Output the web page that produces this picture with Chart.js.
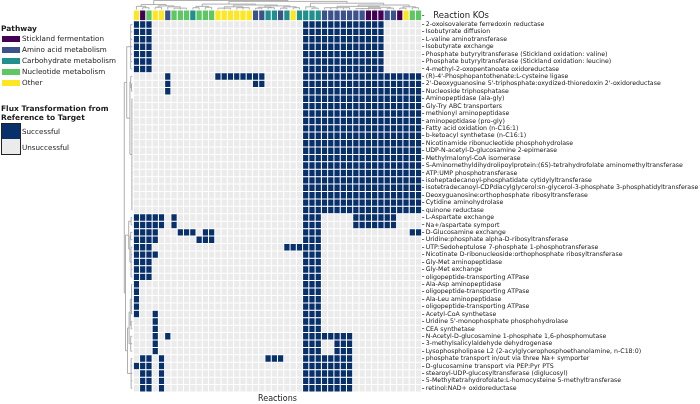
<!DOCTYPE html>
<html>
<head>
<meta charset="utf-8">
<script src="https://cdn.jsdelivr.net/npm/chart.js@4.4.1/dist/chart.umd.min.js"></script>
<style>
  html, body { margin: 0; padding: 0; background: #fff; }
  #wrap { position: relative; width: 700px; height: 404px; font-family: "DejaVu Sans", sans-serif; color: #1a1a1a; }
  #chart { position: absolute; left: 0; top: 0; }
  .lg { position: absolute; left: 22px; font-size: 7.2px; line-height: 10px; white-space: nowrap; }
  .hd { position: absolute; left: 1px; font-size: 7.5px; font-weight: bold; line-height: 9px; white-space: nowrap; }
  .sw { position: absolute; left: 1.5px; width: 18.5px; height: 6px; }
  #flux { position: absolute; left: 1px; top: 123px; width: 18px; height: 30px; border: 1px solid #222; }
  #flux div { height: 15px; }
</style>
</head>
<body>
<div id="wrap">
  <canvas id="chart" width="700" height="404"></canvas>
  <div id="legend"></div>
</div>
<script>
// rows of the heatmap (reactions), top to bottom
const reactions = [
  "2-oxoisovalerate ferredoxin reductase",
  "Isobutyrate diffusion",
  "L-valine aminotransferase",
  "Isobutyrate exchange",
  "Phosphate butyryltransferase (Stickland oxidation: valine)",
  "Phosphate butyryltransferase (Stickland oxidation: leucine)",
  "4-methyl-2-oxopentanoate oxidoreductase",
  "(R)-4'-Phosphopantothenate:L-cysteine ligase",
  "2'-Deoxyguanosine 5'-triphosphate:oxydized-thioredoxin 2'-oxidoreductase",
  "Nucleoside triphosphatase",
  "Aminopeptidase (ala-gly)",
  "Gly-Try ABC transporters",
  "methionyl aminopeptidase",
  "aminopeptidase (pro-gly)",
  "Fatty acid oxidation (n-C16:1)",
  "b-ketoacyl synthetase (n-C16:1)",
  "Nicotinamide ribonucleotide phosphohydrolase",
  "UDP-N-acetyl-D-glucosamine 2-epimerase",
  "Methylmalonyl-CoA isomerase",
  "S-Aminomethyldihydrolipoylprotein:(6S)-tetrahydrofolate aminomethyltransferase",
  "ATP:UMP phosphotransferase",
  "isoheptadecanoyl-phosphatidate cytidylyltransferase",
  "isotetradecanoyl-CDPdiacylglycerol:sn-glycerol-3-phosphate 3-phosphatidyltransferase",
  "Deoxyguanosine:orthophosphate ribosyltransferase",
  "Cytidine aminohydrolase",
  "quinone reductase",
  "L-Aspartate exchange",
  "Na+/aspartate symport",
  "D-Glucosamine exchange",
  "Uridine:phosphate alpha-D-ribosyltransferase",
  "UTP:Sedoheptulose 7-phosphate 1-phosphotransferase",
  "Nicotinate D-ribonucleoside:orthophosphate ribosyltransferase",
  "Gly-Met aminopeptidase",
  "Gly-Met exchange",
  "oligopeptide-transporting ATPase",
  "Ala-Asp aminopeptidase",
  "oligopeptide-transporting ATPase",
  "Ala-Leu aminopeptidase",
  "oligopeptide-transporting ATPase",
  "Acetyl-CoA synthetase",
  "Uridine 5'-monophosphate phosphohydrolase",
  "CEA synthetase",
  "N-Acetyl-D-glucosamine 1-phosphate 1,6-phosphomutase",
  "3-methylsalicylaldehyde dehydrogenase",
  "Lysophospholipase L2 (2-acylglycerophosphoethanolamine, n-C18:0)",
  "phosphate transport in/out via three Na+ symporter",
  "D-glucosamine transport via PEP:Pyr PTS",
  "stearoyl-UDP-glucosyltransferase (diglucosyl)",
  "5-Methyltetrahydrofolate:L-homocysteine 5-methyltransferase",
  "retinol:NAD+ oxidoreductase"
];

// pathway of each reaction KO column, left to right
// S Stickland, A amino acid, C carbohydrate, N nucleotide, O other
const koPathway = [
  "O","S","N","O","O","A","N","N","N","C","N","N","N","O","O","O",
  "O","O","O","A","A","C","C","A","C","O","C","C","C","C","A","A",
  "A","A","A","A","A","S","S","S","A","A","S","O","N","N"
];

const pathwayNames = {
  S: "Stickland fermentation",
  A: "Amino acid metabolism",
  C: "Carbohydrate metabolism",
  N: "Nucleotide metabolism",
  O: "Other"
};
const pathwayColors = { S: "#440154", A: "#3B528B", C: "#21908C", N: "#5DC863", O: "#FDE725" };

// columns where the flux transformation succeeded, per reaction row
const successful = [
  "0-2,27-39", "0-2,27-39", "0-2,27-39", "0-2,27-39", "0-2,27-39", "0-2,27-39", "0-2,27-39",
  "5,13-20,27-45", "5,19-20,27-45", "5,27-45",
  "27-45", "27-45", "27-45", "27-45", "27-45", "27-45", "27-45", "27-45",
  "27-45", "27-45", "27-45", "27-45", "27-45", "27-45", "27-45", "27-45",
  "0-4,6,27-29,35-41", "0-4,6,27-29,35-41",
  "0-3,7-9,11-12,27-29,44-45", "0-3,10-12,27-29", "0-2,24-29", "0-3,27-29",
  "0-2,27-29", "0-2,27-29", "0-2,27-29",
  "0,27-29", "0,27-29", "0,27-29", "0,27-29", "0,3,27-29",
  "3,27-29", "3,27-29", "3,5,27-34", "3,27-29,32-34", "3,27-29,32-34",
  "1-2,4,21-23,27-34", "0-2,4,27-34", "1-2,4,27-34", "1-2,4,27-34", "1-2,4,27-34"
];

// dendrograms: [height, child, child...], leaves are column / row indices
const colTree = [1.0,
  [0.55, [0.35, 0, [0.2, 1, 2]], [0.4, [0.25, 3, 4], [0.3, 5, [0.15, 6, 7, 8]]]],
  [0.9,
    [0.6, [0.35, [0.2, 9, 10], [0.25, 11, 12]],
      [0.5, [0.3, [0.15, 13, 14, 15], [0.2, 16, 17, 18]],
        [0.4, [0.25, [0.15, 19, 20], [0.2, 21, 22]], [0.3, [0.15, 23, 24], [0.2, 25, 26]]]]],
    [0.7, [0.3, 27, [0.15, 28, 29]],
      [0.5, [0.35, [0.2, 30, 31, 32, 33, 34], [0.25, [0.1, 35, 36, 37, 38, 39], [0.15, 40, 41]]],
        [0.3, [0.15, 42, 43], [0.2, 44, 45]]]]
  ]
];
const rowTree = [1.0,
  [0.7, [0.2, 0, 1, 2, 3, 4, 5, 6],
    [0.3, [0.2, 7, [0.1, 8, 9]], [0.05, 10, 11, 12, 13, 14, 15, 16, 17, 18, 19, 20, 21, 22, 23, 24, 25]]],
  [0.85, [0.45, [0.15, 26, 27], [0.3, [0.2, 28, 29], [0.15, 30, 31, 32, 33, 34]]],
    [0.6, [0.4, [0.25, [0.1, 35, 36, 37, 38, 39], [0.15, 40, 41]], [0.2, 42, 43, 44]],
      [0.15, 45, 46, 47, 48, 49]]]
];

const DARK = "#08306B";
const LIGHT = "#EBEBEB";
const FONT = "'DejaVu Sans', sans-serif";

function parseCols(s) {
  const out = [];
  s.split(",").forEach(part => {
    const [a, b] = part.split("-").map(Number);
    for (let c = a; c <= (b === undefined ? a : b); c++) out.push(c);
  });
  return out;
}
const successSets = successful.map(s => new Set(parseCols(s)));

// legend on the left
const legend = document.getElementById("legend");
let html = '<div class="hd" style="top:23.5px">Pathway</div>';
Object.keys(pathwayNames).forEach((k, i) => {
  const cy = 39.3 + i * 11;
  html += `<div class="sw" style="top:${cy - 3}px;background:${pathwayColors[k]}"></div>`;
  html += `<div class="lg" style="top:${cy - 5}px">${pathwayNames[k]}</div>`;
});
html += '<div class="hd" style="top:103.5px">Flux Transformation from<br>Reference to Target</div>';
html += `<div id="flux"><div style="background:${DARK}"></div><div style="background:${LIGHT}"></div></div>`;
html += '<div class="lg" style="top:127px">Successful</div>';
html += '<div class="lg" style="top:142.5px">Unsuccessful</div>';
legend.innerHTML = html;

// one stacked dataset per KO column, for the grid and for the pathway bar
const datasets = [];
koPathway.forEach((p, c) => {
  datasets.push({
    yAxisID: "y",
    data: reactions.map(() => 1),
    backgroundColor: reactions.map((r, j) => successSets[j].has(c) ? DARK : LIGHT)
  });
});
koPathway.forEach((p, c) => {
  datasets.push({
    yAxisID: "yk",
    data: [1],
    backgroundColor: pathwayColors[p]
  });
});

function drawTree(ctx, node, pos, hpx, vertical) {
  if (typeof node === "number") return { p: pos(node), h: 0 };
  const h = node[0];
  const kids = node.slice(1).map(k => drawTree(ctx, k, pos, hpx, vertical));
  ctx.beginPath();
  kids.forEach(k => {
    if (vertical) { ctx.moveTo(k.p, hpx(k.h)); ctx.lineTo(k.p, hpx(h)); }
    else { ctx.moveTo(hpx(k.h), k.p); ctx.lineTo(hpx(h), k.p); }
  });
  const p0 = kids[0].p, p1 = kids[kids.length - 1].p;
  if (vertical) { ctx.moveTo(p0, hpx(h)); ctx.lineTo(p1, hpx(h)); }
  else { ctx.moveTo(hpx(h), p0); ctx.lineTo(hpx(h), p1); }
  ctx.stroke();
  return { p: (p0 + p1) / 2, h: h };
}

const dendroPlugin = {
  id: "dendro",
  afterDatasetsDraw(chart) {
    const ctx = chart.ctx;
    const x = chart.scales.x, y = chart.scales.y, yk = chart.scales.yk;
    ctx.save();
    ctx.strokeStyle = "#9a9a9a";
    ctx.lineWidth = 0.8;
    const top = yk.top - 0.5;
    drawTree(ctx, colTree, c => x.getPixelForValue(c + 0.5), h => top - h * (top - 0.5), true);
    const left = x.left - 1;
    drawTree(ctx, rowTree, r => y.getPixelForValue(r), h => left - h * 8, false);
    ctx.restore();
  }
};

const yCommon = {
  type: "category",
  position: "right",
  stacked: true,
  stack: "rows",
  offset: true,
  border: { display: false },
  grid: { offset: false, drawOnChartArea: false, drawTicks: true, tickLength: 2.5, color: "#333", lineWidth: 0.7 },
  afterFit(scale) {
    scale.width = 278.3;
    scale.paddingTop = 0;
    scale.paddingBottom = 0;
  }
};

new Chart(document.getElementById("chart"), {
  type: "bar",
  data: { datasets: datasets },
  options: {
    indexAxis: "y",
    responsive: false,
    animation: false,
    devicePixelRatio: 1,
    datasets: {
      bar: {
        grouped: false,
        barPercentage: 1,
        categoryPercentage: 1,
        borderColor: "#ffffff",
        borderWidth: 0.5,
        borderSkipped: false,
        inflateAmount: 0
      }
    },
    layout: { padding: { left: 133.3, top: 10, right: 0, bottom: 0.5 } },
    plugins: { legend: { display: false }, tooltip: { enabled: false } },
    scales: {
      yk: Object.assign({}, yCommon, {
        labels: ["Reaction KOs"],
        stackWeight: 10.7,
        ticks: { autoSkip: false, padding: 9, color: "#1a1a1a", font: { family: FONT, size: 8.5 } }
      }),
      y: Object.assign({}, yCommon, {
        labels: reactions,
        stackWeight: 370.3,
        ticks: { autoSkip: false, padding: 1.5, color: "#1a1a1a", font: { family: FONT, size: 6.25 } }
      }),
      x: {
        type: "linear",
        stacked: true,
        min: 0,
        max: koPathway.length,
        border: { display: false },
        grid: { display: false },
        ticks: { display: false },
        title: { display: true, text: "Reactions", color: "#1a1a1a", font: { family: FONT, size: 8 }, padding: { top: 1, bottom: 0 } },
        afterFit(scale) { scale.height = 11.5; }
      }
    }
  },
  plugins: [dendroPlugin]
});
</script>
</body>
</html>
